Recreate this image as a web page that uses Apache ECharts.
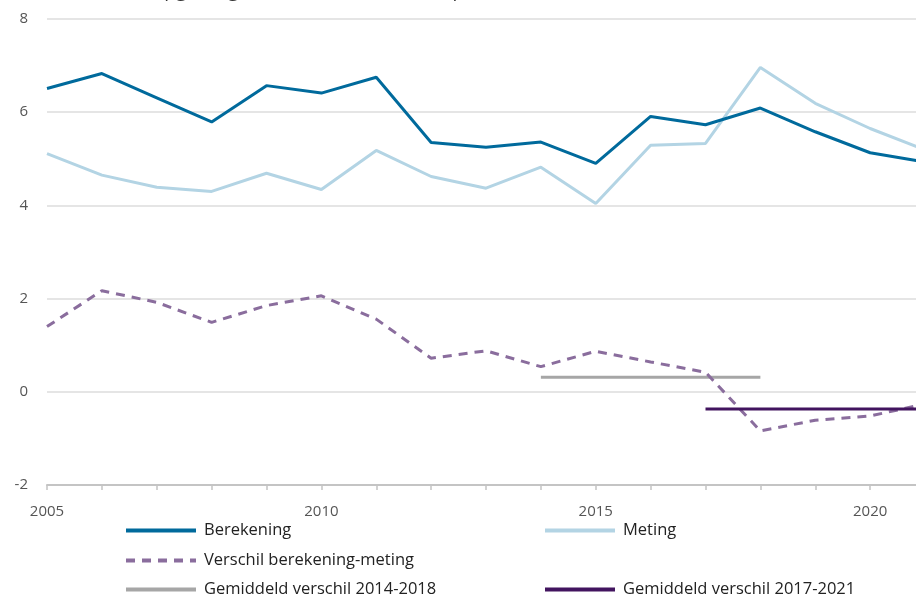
<!DOCTYPE html>
<html>
<head>
<meta charset="utf-8">
<script src="https://cdn.jsdelivr.net/npm/echarts@6/dist/echarts.min.js"></script>
<style>html,body{margin:0;padding:0;background:#fff;overflow:hidden;width:916px;height:602px}#c{width:940px;height:602px}</style>
</head>
<body>
<div id="c"></div>
<script>
var years = [2005,2006,2007,2008,2009,2010,2011,2012,2013,2014,2015,2016,2017,2018,2019,2020,2021];
var berekening = [6.51,6.83,6.31,5.79,6.57,6.41,6.75,5.35,5.25,5.36,4.90,5.91,5.73,6.09,5.58,5.13,4.93];
var meting = [5.11,4.65,4.39,4.30,4.69,4.34,5.18,4.62,4.37,4.82,4.04,5.29,5.33,6.96,6.19,5.65,5.19];
var verschil = [1.40,2.17,1.92,1.49,1.85,2.06,1.56,0.72,0.88,0.54,0.87,0.64,0.42,-0.84,-0.61,-0.52,-0.26];
var gem1418Years = [2014,2018];
var gem1418Value = 0.31;
var gem1721Years = [2017,2021];
var gem1721Value = -0.37;
var yTicks = {min:-2, max:8, step:2};
var xTicks = {min:2005, max:2021, labelStep:5};
var names = ['Berekening','Meting','Verschil berekening-meting','Gemiddeld verschil 2014-2018','Gemiddeld verschil 2017-2021'];

function pairs(xs, ys){ return xs.map(function(x,i){return [x, ys[i]];}); }
function flat(xs, v){ return xs.map(function(x){return [x, v];}); }

var font = 'Open Sans';
var chart = echarts.init(document.getElementById('c'), null, {renderer:'canvas'});
function leg(name, left, top){
  return {data:[name], left:left, top:top, orient:'horizontal', itemWidth:70, itemHeight:14, itemGap:0,
    itemStyle:{opacity:0, borderWidth:0},
    lineStyle:{width:4},
    textStyle:{fontFamily:font, fontSize:16.5, color:'#222', padding:[0,0,0,3]}, selectedMode:false, padding:0};
}
chart.setOption({
  animation:false,
  textStyle:{fontFamily:font},
  graphic:[{type:'text', left:40, top:-18, style:{text:'Concentratie (µg/m³) gemiddeld over alle meetpunten', fontFamily:font, fontSize:19, fill:'#333'}}],
  grid:{left:47, width:878, top:19, bottom:117, containLabel:false},
  legend:[
    leg(names[0],124,522),
    leg(names[1],543,522),
    leg(names[2],124,552),
    leg(names[3],124,581),
    leg(names[4],543,581)
  ],
  xAxis:{type:'value', min:xTicks.min, max:xTicks.max, interval:1,
    axisLine:{show:true, onZero:false, lineStyle:{color:'#c4c4c4', width:2}},
    axisTick:{show:true, length:5, lineStyle:{color:'#c4c4c4', width:1.5}},
    splitLine:{show:false},
    axisLabel:{margin:19, fontSize:15, color:'#555', fontFamily:font,
      formatter:function(v){return (v - xTicks.min) % xTicks.labelStep === 0 && v < xTicks.max ? String(v) : '';}}
  },
  yAxis:{type:'value', min:yTicks.min, max:yTicks.max, interval:yTicks.step,
    axisLine:{show:false}, axisTick:{show:false},
    splitLine:{lineStyle:{color:'#dcdcdc', width:1.5}},
    axisLabel:{margin:19, fontSize:15, color:'#555', fontFamily:font}
  },
  series:[
    {name:names[0], type:'line', data:pairs(years,berekening), symbol:'none', lineStyle:{color:'#006a9c', width:3}, itemStyle:{color:'#006a9c'}, z:5},
    {name:names[1], type:'line', data:pairs(years,meting), symbol:'none', lineStyle:{color:'#b3d4e4', width:3}, itemStyle:{color:'#b3d4e4'}, z:4},
    {name:names[2], type:'line', data:pairs(years,verschil), symbol:'none', lineStyle:{color:'#8a6d9d', width:3, type:[9,7]}, itemStyle:{color:'#8a6d9d'}, z:3},
    {name:names[3], type:'line', data:flat(gem1418Years,gem1418Value), symbol:'none', lineStyle:{color:'#a6a6a6', width:3}, itemStyle:{color:'#a6a6a6'}, z:2},
    {name:names[4], type:'line', data:flat(gem1721Years,gem1721Value), symbol:'none', lineStyle:{color:'#42145f', width:3}, itemStyle:{color:'#42145f'}, z:6}
  ]
});
</script>
</body>
</html>
